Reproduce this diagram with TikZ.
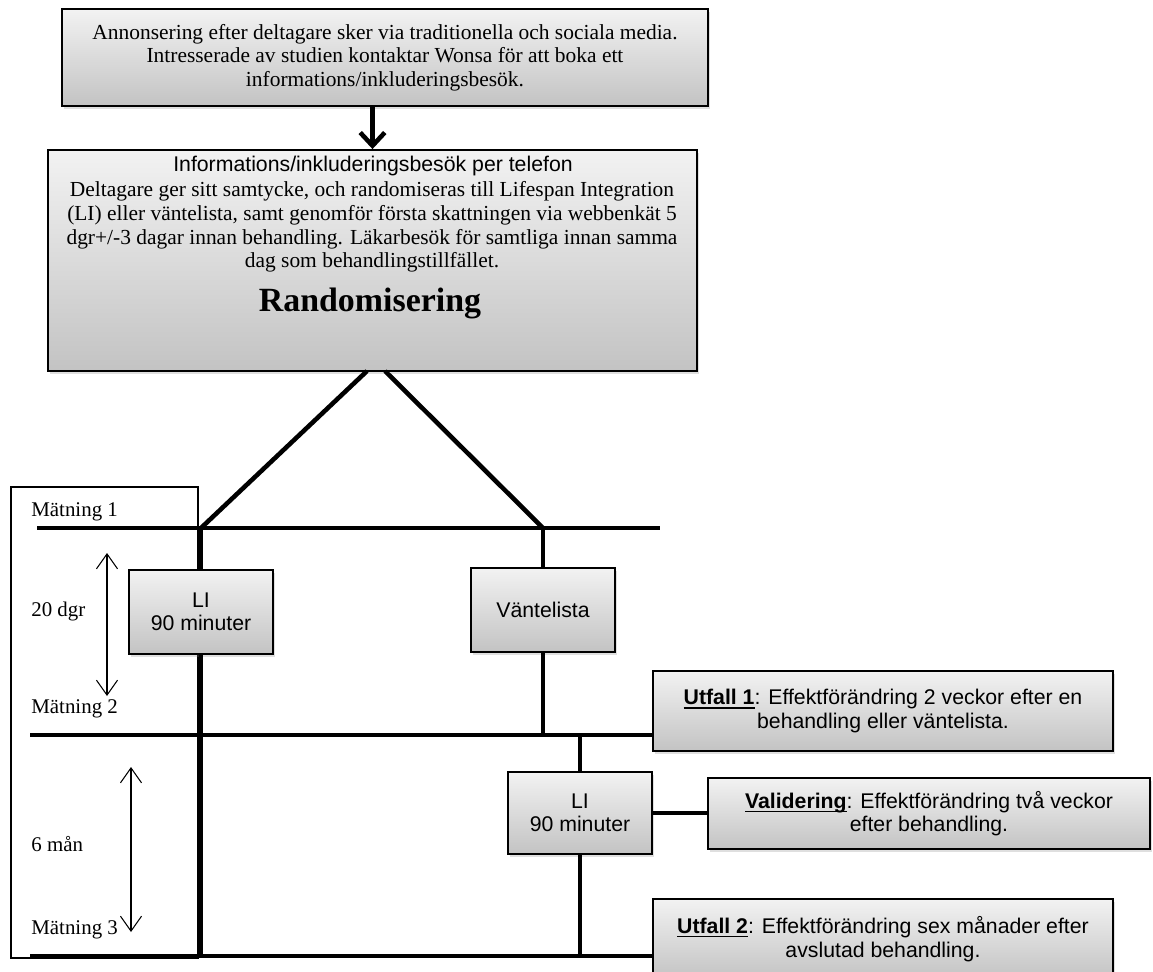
\documentclass[tikz,border=0pt]{standalone}
\usepackage{fontspec}
\setmainfont{Liberation Serif}
\setsansfont{Liberation Sans}
\usepackage{tikz}
\usetikzlibrary{arrows.meta, shadows}
\newcommand\ulbox[1]{\leavevmode\setbox0\hbox{#1}\rlap{\rule[-2.2pt]{\wd0}{0.75pt}}\box0}

\begin{document}
\begin{tikzpicture}[x=0.02cm, y=-0.02cm,
    graybox/.style={draw, line width=1.1pt, top color=gray!10, bottom color=gray!47,
        drop shadow={shadow xshift=1.2pt, shadow yshift=-1.5pt, opacity=0.25},
        inner sep=0pt, align=center},
    serif11/.style={font=\fontsize{12.2}{13.4}\selectfont},
    sans11/.style={font=\sffamily\fontsize{12.1}{13.4}\selectfont},
    bar/.style={line width=2.6pt},
    span/.style={line width=0.6pt, {Straight Barb[length=8.5pt,width=12pt]}-{Straight Barb[length=8.5pt,width=12pt]}},
    lbl/.style={anchor=west, inner sep=0pt, font=\fontsize{11.9}{13}\selectfont}]
        \useasboundingbox (0,0) rectangle (1153,971);

        % Annonsering
        \node[graybox, serif11, minimum width=12.92cm, minimum height=1.94cm] (annons) at (385,57.5)
            {Annonsering efter deltagare sker via traditionella och sociala media.\\
             Intresserade av studien kontaktar Wonsa för att boka ett\\
             informations/inkluderingsbesök.};

        % Informationsbesok och randomisering
        \node[graybox, minimum width=12.98cm, minimum height=4.42cm] (info) at (372.5,260.5) {};
        \node[sans11, inner sep=0pt] (infohead) at (373,166) {Informations/inkluderingsbesök per telefon};
        \node[serif11, align=center, inner sep=0pt] (infobody) at (372,227)
            {Deltagare ger sitt samtycke, och randomiseras till Lifespan Integration\\
             (LI) eller väntelista, samt genomför första skattningen via webbenkät 5\\
             dgr+/-3 dagar innan behandling. Läkarbesök för samtliga innan samma\\
             dag som behandlingstillfället.};
        \node[font=\fontsize{19.3}{21}\selectfont\bfseries, inner sep=0pt] (randtxt) at (370,303) {Randomisering};

        \draw[bar, -{Straight Barb[length=7.5pt,width=14pt]}] (annons.south -| info.north) -- (info.north);

        % Matningsram
        \draw[line width=0.6pt] (11,487) rectangle (198,958);

        % Behandlingsarmar
        \node[graybox, sans11, minimum width=2.88cm, minimum height=1.68cm] (li1) at (201,612) {LI\\90 minuter};
        \node[graybox, sans11, minimum width=2.88cm, minimum height=1.68cm] (vant) at (543,610) {Väntelista};
        \node[graybox, sans11, minimum width=2.88cm, minimum height=1.64cm] (li2) at (580,813) {LI\\90 minuter};

        % Utfall
        \node[graybox, sans11, minimum width=9.2cm, minimum height=1.6cm] (ut1) at (883,711)
            {\ulbox{\textbf{Utfall 1}}: Effektförändring 2 veckor efter en\\behandling eller väntelista.};
        \node[graybox, sans11, minimum width=8.84cm, minimum height=1.42cm] (valid) at (929,813.5)
            {\ulbox{\textbf{Validering}}: Effektförändring två veckor\\efter behandling.};
        \node[graybox, sans11, minimum width=9.2cm, minimum height=1.6cm] (ut2) at (883,939)
            {\ulbox{\textbf{Utfall 2}}: Effektförändring sex månader efter\\avslutad behandling.};

        % Matningslinjer
        \coordinate (m1l) at (37,528);
        \coordinate (m1r) at (660,528);
        \coordinate (m2l) at (30,735);
        \coordinate (m3l) at (30,956);
        \coordinate (jl) at (li1.north |- m1l);
        \coordinate (jr) at (vant.north |- m1l);
        \coordinate (rl) at (367,371);
        \coordinate (rr) at (385,371);

        \draw[bar] (m1l) -- (m1r);
        \draw[bar] (m2l) -- (ut1.west |- m2l);
        \draw[bar] (m3l) -- (ut2.west |- m3l);

        % Randomiseringsgrenar
        \draw[bar] (rl) -- (jl);
        \draw[bar] (rr) -- (jr);
        \draw[bar] (jl) -- (li1.north);
        \draw[bar] (jr) -- (vant.north);
        \draw[bar] (li1.south) -- (li1.south |- m3l);
        \draw[bar] (vant.south) -- (vant.south |- m2l);
        \draw[bar] (li2.north |- m2l) -- (li2.north);
        \draw[bar] (li2.south) -- (li2.south |- m3l);
        \draw[bar] (li2.east) -- (valid.west |- li2.east);

        % Tidsintervall
        \coordinate (s1a) at (107,553);
        \coordinate (s1b) at (107,696);
        \coordinate (s2a) at (131,767);
        \coordinate (s2b) at (131,932);
        \draw[span] (s1a) -- (s1b);
        \draw[span] (s2a) -- (s2b);

        \node[lbl] (mat1) at (31,512) {Mätning 1};
        \node[lbl] (dgr) at (31,611) {20 dgr};
        \node[lbl] (mat2) at (31,709) {Mätning 2};
        \node[lbl] (man) at (31,844) {6 mån};
        \node[lbl] (mat3) at (31,930) {Mätning 3};
\end{tikzpicture}
\end{document}
